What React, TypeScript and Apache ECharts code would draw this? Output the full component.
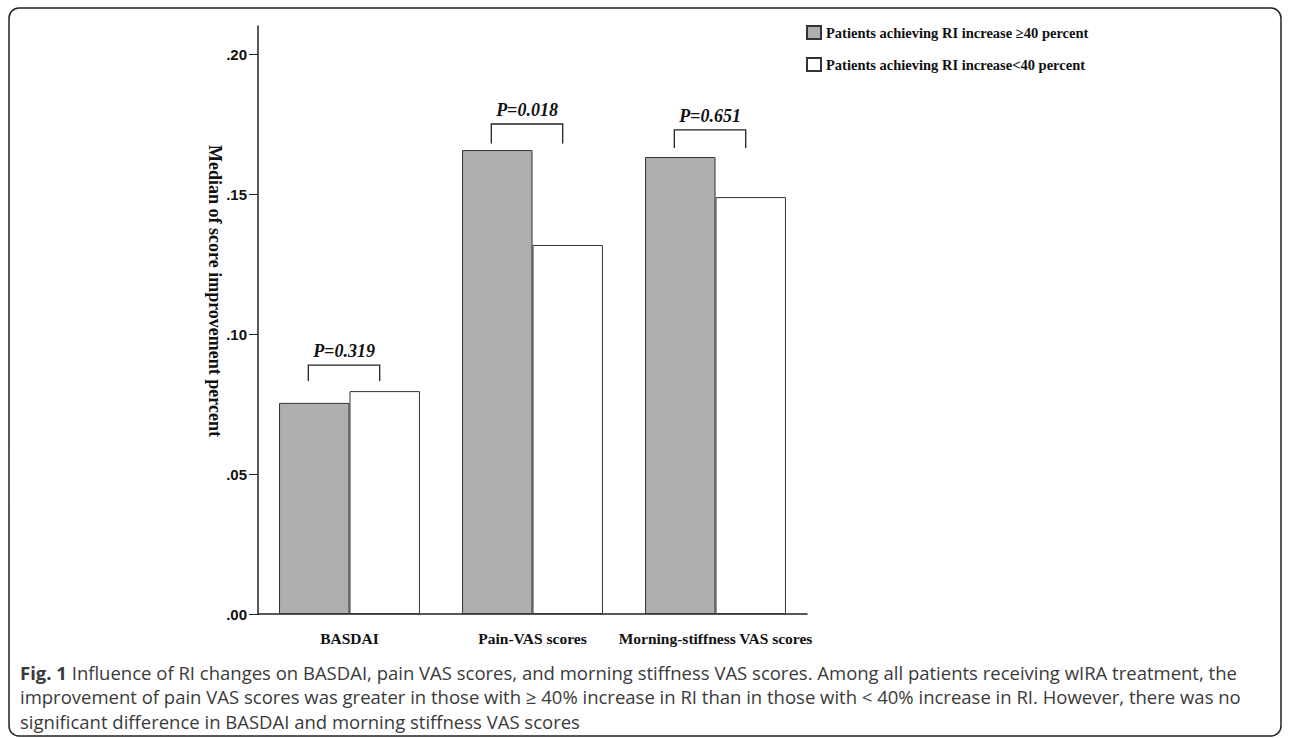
import React, { useEffect, useRef } from "react";
import * as echarts from "echarts";

const categories = ["BASDAI", "Pain-VAS scores", "Morning-stiffness VAS scores"];
const seriesNames = [
  "Patients achieving RI increase \u226540 percent",
  "Patients achieving RI increase<40 percent",
];
const highGroup = [0.0754, 0.1657, 0.1632];
const lowGroup = [0.0796, 0.1318, 0.1489];
const pLabels = ["P=0.319", "P=0.018", "P=0.651"];
const bracketBottom = [0.0832, 0.168, 0.1664];
const bracketTop = [0.0889, 0.175, 0.1729];
const yTicks = [0, 0.05, 0.1, 0.15, 0.2];
const caption =
  "Influence of RI changes on BASDAI, pain VAS scores, and morning stiffness VAS scores. Among all patients receiving wIRA treatment, the";
const caption2 =
  "improvement of pain VAS scores was greater in those with \u2265 40% increase in RI than in those with < 40% increase in RI. However, there was no";
const caption3 = "significant difference in BASDAI and morning stiffness VAS scores";

const SERIF = '"Liberation Serif", "Times New Roman", serif';
const SANS = '"Liberation Sans", Arial, sans-serif';
const CAP = '"Open Sans", sans-serif';

export default function App() {
  const ref = useRef<HTMLDivElement>(null);
  useEffect(() => {
    const chart = echarts.init(ref.current!, null, { renderer: "svg" });
    const bracketData = categories.map((_, i) => [i, bracketBottom[i], bracketTop[i]]);
    chart.setOption({
      animation: false,
      backgroundColor: "#fff",
      grid: { left: 258, top: 26, right: 483, bottom: 124 },
      legend: {
        orient: "vertical",
        left: 806,
        top: 25,
        padding: 0,
        itemGap: 17,
        itemWidth: 14,
        itemHeight: 13,
        icon: "rect",
        data: seriesNames,
        textStyle: { fontFamily: SERIF, fontWeight: "bold", fontSize: 14.5, color: "#111" },
      },
      xAxis: {
        type: "category",
        data: categories,
        axisLine: { lineStyle: { color: "#222", width: 1.5 } },
        axisTick: { show: false },
        axisLabel: {
          interval: 0,
          margin: 16,
          fontFamily: SERIF,
          fontWeight: "bold",
          fontSize: 15.5,
          color: "#111",
        },
      },
      yAxis: {
        type: "value",
        min: 0,
        max: 0.21,
        interval: 0.05,
        splitLine: { show: false },
        axisLine: { show: true, lineStyle: { color: "#222", width: 1.5 } },
        axisTick: { show: true, length: 9, customValues: yTicks, lineStyle: { color: "#222" } },
        axisLabel: {
          customValues: yTicks,
          margin: 11,
          fontFamily: SANS,
          fontWeight: "bold",
          fontSize: 15,
          color: "#111",
          formatter: (v: number) => v.toFixed(2).replace(/^0/, ""),
        },
      },
      series: [
        {
          name: seriesNames[0],
          type: "bar",
          data: highGroup,
          barGap: "0%",
          barCategoryGap: "23%",
          itemStyle: { color: "#afafaf", borderColor: "#333", borderWidth: 1 },
        },
        {
          name: seriesNames[1],
          type: "bar",
          data: lowGroup,
          itemStyle: { color: "#ffffff", borderColor: "#333", borderWidth: 1 },
        },
        {
          type: "custom",
          z: 5,
          data: bracketData,
          renderItem: (params: any, api: any) => {
            const idx = api.value(0);
            const band = api.size([1, 0])[0];
            const top = api.coord([idx, api.value(2)]);
            const bot = api.coord([idx, api.value(1)]);
            const cx = top[0] - band * 0.03;
            const hw = band * 0.195;
            return {
              type: "group",
              children: [
                {
                  type: "polyline",
                  shape: {
                    points: [
                      [cx - hw, bot[1]],
                      [cx - hw, top[1]],
                      [cx + hw, top[1]],
                      [cx + hw, bot[1]],
                    ],
                  },
                  style: { stroke: "#222", lineWidth: 1.3, fill: null },
                },
                {
                  type: "text",
                  style: {
                    text: pLabels[params.dataIndex],
                    x: cx,
                    y: top[1] - 5,
                    align: "center",
                    verticalAlign: "bottom",
                    fontFamily: SERIF,
                    fontWeight: "bold",
                    fontStyle: "italic",
                    fontSize: 18,
                    fill: "#111",
                  },
                },
              ],
            };
          },
        },
      ],
      graphic: [
        {
          type: "rect",
          shape: { x: 9, y: 8, width: 1272, height: 728, r: 10 },
          style: { fill: null, stroke: "#222", lineWidth: 1.5 },
          silent: true,
        },
        {
          type: "text",
          x: 215,
          y: 291,
          rotation: -Math.PI / 2,
          style: {
            text: "Median of score improvement percent",
            align: "center",
            verticalAlign: "middle",
            fontFamily: SERIF,
            fontWeight: "bold",
            fontSize: 18,
            fill: "#111",
          },
        },
        {
          type: "text",
          left: 20,
          top: 660,
          style: {
            text: "{b|Fig. 1} " + caption + "\n" + caption2 + "\n" + caption3,
            lineHeight: 24.5,
            fontFamily: CAP,
            fontSize: 18.5,
            fill: "#3a3a3a",
            rich: {
              b: { fontWeight: "bold", fontFamily: CAP, fontSize: 18.5, fill: "#3a3a3a", lineHeight: 24.5 },
            },
          },
        },
      ],
    });
    return () => chart.dispose();
  }, []);
  return (
    <div
      ref={ref}
      style={{ position: "absolute", left: 0, top: 0, width: 1290, height: 738 }}
    />
  );
}
